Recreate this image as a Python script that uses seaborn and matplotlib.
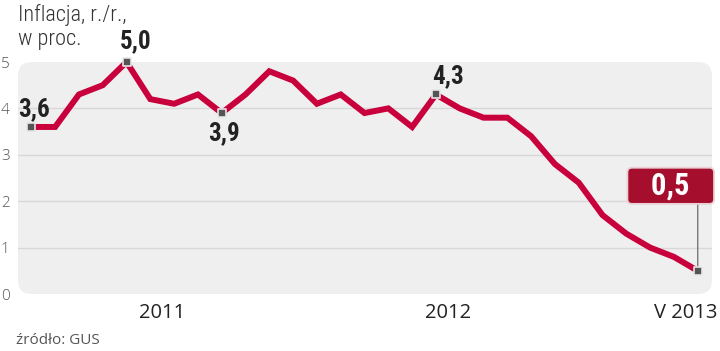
import numpy as np
import pandas as pd
import seaborn as sns
import matplotlib.pyplot as plt
from matplotlib.patches import FancyBboxPatch
from matplotlib import font_manager

# Inflation y/y in Poland, Jan 2011 - May 2013 (GUS)
months = list(range(29))
inflation = [3.6, 3.6, 4.3, 4.5, 5.0, 4.2, 4.1, 4.3, 3.9, 4.3, 4.8, 4.6,
             4.1, 4.3, 3.9, 4.0, 3.6, 4.3, 4.0, 3.8, 3.8, 3.4, 2.8, 2.4,
             1.7, 1.3, 1.0, 0.8, 0.5]
marked = [0, 4, 8, 17, 28]
labels = ["3,6", "5,0", "3,9", "4,3"]
last_text = "0,5"
year_labels = ["2011", "2012"]
year_centers = [5.5, 17.5]
last_label = "V 2013"
yticks = [0, 1, 2, 3, 4, 5]

df = pd.DataFrame({"month": months, "value": inflation})

# pick a narrow font if there is one
names = {f.name for f in font_manager.fontManager.ttflist}
cond = next((n for n in ["Roboto Condensed", "Liberation Sans Narrow",
                         "Open Sans Condensed", "DejaVu Sans Condensed"] if n in names), "Roboto")
plain = ["Open Sans", "DejaVu Sans"]

sns.set_style("white")
plt.rcParams["font.family"] = [cond, "DejaVu Sans"]

fig = plt.figure(figsize=(7.2, 3.51), dpi=100)
ax = fig.add_axes([18 / 720, 57 / 351, 694 / 720, 232 / 351])
ax.set_xlim(-0.56, 28.6)
ax.set_ylim(0, 5.0)
ax.set_facecolor("none")
for s in ax.spines.values():
    s.set_visible(False)

# rounded grey background
bg = FancyBboxPatch((0, 0), 1, 1, boxstyle="round,pad=0,rounding_size=0.02",
                    transform=ax.transAxes, mutation_aspect=694 / 232,
                    fc="#efefef", ec="none", zorder=0, clip_on=False)
ax.add_patch(bg)
ax.set_axisbelow(True)

ax.set_yticks(yticks)
ax.set_yticklabels([str(t) for t in yticks], color="#555555", fontsize=11,
                   family=plain, fontweight="light")
ax.yaxis.grid(True, color="#d8d8d8", lw=1)
gls = ax.get_ygridlines()
gls[0].set_visible(False)
gls[-1].set_visible(False)
ax.tick_params(axis="y", length=0, pad=6)

ax.set_xticks([11.5, 23.5])
ax.set_xticks([i + 0.5 for i in range(28)], minor=True)
ax.tick_params(axis="x", which="major", direction="in", length=14, color="#d0d0d0",
               width=1, labelbottom=False)
ax.tick_params(axis="x", which="minor", direction="in", length=3, color="#d0d0d0",
               width=1, labelbottom=False)

sns.lineplot(data=df, x="month", y="value", color="#c8003c", lw=4.3, ax=ax,
             clip_on=False, solid_joinstyle="miter", zorder=3)
sns.scatterplot(data=df.iloc[marked], x="month", y="value", marker="s", s=30,
                color="#555555", edgecolor="#e6e6e6", linewidth=1.2, ax=ax,
                clip_on=False, zorder=5)
ax.set_xlabel("")
ax.set_ylabel("")

# value labels
offsets = [(-13, 18, "left"), (9, 21, "center"), (2, -20, "center"), (12, 18, "center")]
for idx, txt, (dx, dy, ha) in zip(marked[:4], labels, offsets):
    ax.annotate(txt, (months[idx], inflation[idx]), xytext=(dx, dy),
                textcoords="offset pixels", ha=ha, va="center", fontsize=18,
                fontweight="bold", color="#222222")

# last value box
li = marked[-1]
ax.annotate("", (months[li], inflation[li]), xytext=(0, 67), textcoords="offset pixels",
            arrowprops=dict(arrowstyle="-", color="#777777", lw=1, shrinkA=0, shrinkB=0),
            zorder=4)
ax.annotate("   " + last_text + "   ", (months[li], inflation[li]), xytext=(-27, 85),
            textcoords="offset pixels", ha="center", va="center", fontsize=22,
            fontweight="bold", color="white",
            bbox=dict(boxstyle="round,pad=0.1,rounding_size=0.15", fc="#a50f2d",
                      ec="#ead0d4", lw=1.3), zorder=6)

# year labels
for x, t in zip(year_centers, year_labels):
    ax.text(x, -0.08, t, transform=ax.get_xaxis_transform(), ha="center", va="center",
            fontsize=14.5, color="#222222", family=plain)
ax.text(1.008, -0.08, last_label, transform=ax.transAxes, ha="right", va="center",
        fontsize=14.5, color="#222222", family=plain)

fig.text(18 / 720, 1 - 21 / 351, "Inflacja, r./r.,", fontsize=16, color="#333333",
         va="baseline", ha="left", fontweight="light")
fig.text(18 / 720, 1 - 45 / 351, "w proc.", fontsize=16, color="#333333",
         va="baseline", ha="left", fontweight="light")
fig.text(16 / 720, 1 - 340 / 351, "źródło: GUS", fontsize=11, color="#555555",
         va="center", ha="left", family=plain)

fig.savefig("out.png", dpi=100)
